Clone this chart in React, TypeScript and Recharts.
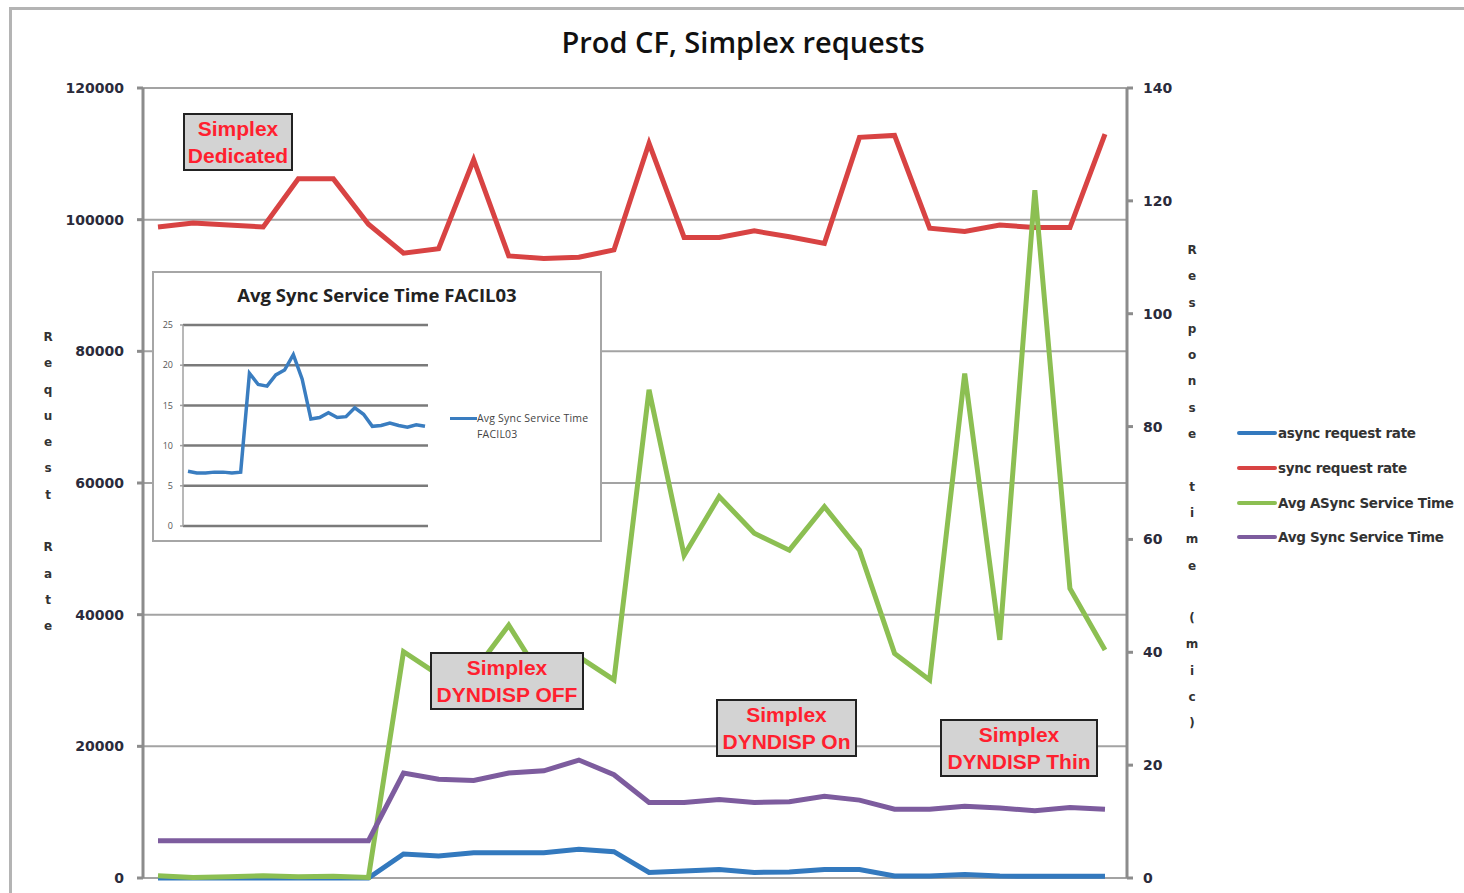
import { LineChart, Line, XAxis, YAxis, CartesianGrid } from 'recharts';

const periods = [
  '01', '02', '03', '04', '05', '06', '07', '08', '09', '10', '11', '12', '13', '14',
  '15', '16', '17', '18', '19', '20', '21', '22', '23', '24', '25', '26', '27', '28',
];

// request rates (left axis)
const asyncRate = [
  0, 0, 0, 0, 0, 0, 0, 3650, 3350, 3850, 3850, 3850, 4350, 4000,
  850, 1050, 1300, 850, 900, 1300, 1300, 300, 300, 550, 300, 250, 250, 250,
];
const syncRate = [
  98900, 99500, 99200, 98900, 106200, 106200, 99300, 94900, 95600, 109100, 94500, 94100, 94300, 95400,
  111600, 97300, 97300, 98300, 97400, 96400, 112500, 112800, 98700, 98200, 99200, 98800, 98800, 113000,
];

// service times (right axis)
const asyncTime = [
  0.4, 0.1, 0.2, 0.4, 0.2, 0.3, 0.1, 40.1, 36.0, 36.5, 44.8, 34.9, 39.2, 35.1,
  86.5, 57.2, 67.6, 61.1, 58.1, 65.8, 58.1, 39.8, 35.1, 89.4, 42.2, 121.9, 51.3, 40.4,
];
const syncTime = [
  6.6, 6.6, 6.6, 6.6, 6.6, 6.6, 6.6, 18.6, 17.5, 17.3, 18.6, 19.0, 20.9, 18.3,
  13.4, 13.4, 13.9, 13.4, 13.5, 14.5, 13.8, 12.2, 12.2, 12.7, 12.4, 11.9, 12.5, 12.2,
];

// inset: FACIL03
const facilSync = [
  6.8, 6.6, 6.6, 6.7, 6.7, 6.6, 6.7, 19.0, 17.6, 17.4, 18.8, 19.4, 21.3, 18.3,
  13.3, 13.5, 14.1, 13.5, 13.6, 14.7, 13.9, 12.4, 12.5, 12.8, 12.5, 12.3, 12.6, 12.4,
];

const rateTicks = [0, 20000, 40000, 60000, 80000, 100000, 120000];
const timeTicks = [0, 20, 40, 60, 80, 100, 120, 140];
const insetTicks = [0, 5, 10, 15, 20, 25];

const seriesInfo = [
  { key: 'asyncRate', name: 'async request rate', color: '#3379be', axis: 'left' },
  { key: 'syncRate', name: 'sync request rate', color: '#d84343', axis: 'left' },
  { key: 'asyncTime', name: 'Avg ASync Service Time', color: '#8cbf52', axis: 'right' },
  { key: 'syncTime', name: 'Avg Sync Service Time', color: '#7d5c9e', axis: 'right' },
];

const notes = [
  { lines: ['Simplex', 'Dedicated'], left: 183, top: 113, width: 110 },
  { lines: ['Simplex', 'DYNDISP OFF'], left: 430, top: 652, width: 154 },
  { lines: ['Simplex', 'DYNDISP On'], left: 716, top: 699, width: 141 },
  { lines: ['Simplex', 'DYNDISP Thin'], left: 940, top: 719, width: 158 },
];

const data = periods.map((p, i) => ({
  period: p,
  asyncRate: asyncRate[i],
  syncRate: syncRate[i],
  asyncTime: asyncTime[i],
  syncTime: syncTime[i],
}));
const insetData = periods.map((p, i) => ({ period: p, facil: facilSync[i] }));

const axisFont = 'DejaVu Sans, sans-serif';

const StackedTitle = ({ text, x, y }: { text: string; x: number; y: number }) => (
  <div
    style={{
      position: 'absolute', left: x - 10, top: y, width: 20, textAlign: 'center',
      fontFamily: axisFont, fontWeight: 700, fontSize: 12, lineHeight: '26.3px', color: '#333',
    }}
  >
    {text.split('').map((c, i) => (
      <div key={i} style={{ height: 26.3 }}>{c === ' ' ? '\u00a0' : c}</div>
    ))}
  </div>
);

const LegendBox = () => (
  <div
    style={{
      position: 'absolute', left: 1237, top: 416, width: 230,
      fontFamily: axisFont, fontWeight: 700, fontSize: 13.5, color: '#333',
    }}
  >
    {seriesInfo.map((s) => (
      <div key={s.key} style={{ display: 'flex', alignItems: 'center', height: 34.7 }}>
        <span style={{ width: 40, height: 4, borderRadius: 2, background: s.color, marginRight: 1 }} />
        <span style={{ letterSpacing: -0.3, whiteSpace: 'nowrap' }}>{s.name}</span>
      </div>
    ))}
  </div>
);

export default function App() {
  return (
    <div style={{ position: 'absolute', left: 0, top: 0, width: 1464, height: 893, background: '#fff', overflow: 'hidden' }}>
      <div style={{ position: 'absolute', left: 9, top: 7, right: -10, bottom: -10, border: '3px solid #b4b4b4' }} />

      <div
        style={{
          position: 'absolute', left: 443, top: 22, width: 600, textAlign: 'center',
          fontFamily: 'Open Sans, sans-serif', fontWeight: 600, fontSize: 29, color: '#111',
        }}
      >
        Prod CF, Simplex requests
      </div>

      <div style={{ position: 'absolute', left: 0, top: 0 }}>
        <LineChart width={1464} height={893} data={data} margin={{ top: 88, right: 277, bottom: 15, left: 63 }}>
          <CartesianGrid yAxisId="left" vertical={false} stroke="#a3a3a3" strokeWidth={2} />
          <XAxis dataKey="period" hide height={0} padding={{ left: 15, right: 22 }} />
          <YAxis
            yAxisId="left"
            width={80}
            domain={[0, 120000]}
            ticks={rateTicks}
            interval={0}
            stroke="#8c8c8c"
            strokeWidth={3}
            tickSize={6}
            tickMargin={13}
            tick={{ fontFamily: axisFont, fontWeight: 700, fontSize: 14, fill: '#2b2b3b' }}
          />
          <YAxis
            yAxisId="right"
            orientation="right"
            width={60}
            domain={[0, 140]}
            ticks={timeTicks}
            interval={0}
            stroke="#8c8c8c"
            strokeWidth={3}
            tickSize={6}
            tickMargin={10}
            tick={{ fontFamily: axisFont, fontWeight: 700, fontSize: 14, fill: '#2b2b3b' }}
          />
          {seriesInfo.map((s) => (
            <Line
              key={s.key}
              yAxisId={s.axis}
              dataKey={s.key}
              name={s.name}
              type="linear"
              stroke={s.color}
              strokeWidth={5}
              dot={false}
              isAnimationActive={false}
            />
          ))}
        </LineChart>
      </div>

      <LegendBox />
      <StackedTitle text="Request Rate" x={48} y={324} />
      <StackedTitle text="Response time (mic)" x={1192} y={237} />

      {/* inset chart */}
      <div
        style={{
          position: 'absolute', left: 152, top: 271, width: 446, height: 267,
          background: '#fff', border: '2px solid #a6a6a6',
        }}
      >
        <div
          style={{
            position: 'absolute', left: 0, top: 9, width: 446, textAlign: 'center',
            fontFamily: 'Open Sans, sans-serif', fontWeight: 700, fontSize: 18.5, color: '#222',
          }}
        >
          Avg Sync Service Time FACIL03
        </div>
        <div style={{ position: 'absolute', left: -2, top: -2 }}>
          <LineChart width={448} height={269} data={insetData} margin={{ top: 54, right: 172, bottom: 14, left: 5 }}>
            <CartesianGrid vertical={false} stroke="#7a7a7a" strokeWidth={2.5} />
            <XAxis dataKey="period" hide height={0} padding={{ left: 5, right: 3 }} />
            <YAxis
              width={26}
              domain={[0, 25]}
              ticks={insetTicks}
              interval={0}
              stroke="#a0a0a0"
              strokeWidth={1.5}
              tickSize={3}
              tickMargin={7}
              tick={{ fontFamily: 'Open Sans, sans-serif', fontSize: 9, fill: '#555' }}
            />
            <Line
              dataKey="facil"
              type="linear"
              stroke="#3a7dc0"
              strokeWidth={3.5}
              dot={false}
              isAnimationActive={false}
            />
          </LineChart>
        </div>
        <div style={{ position: 'absolute', left: 296, top: 137, display: 'flex', alignItems: 'flex-start' }}>
          <span style={{ width: 27, height: 3, background: '#3a7dc0', marginTop: 7 }} />
          <span
            style={{
              fontFamily: 'Open Sans, sans-serif', fontSize: 10.5, lineHeight: '16px', color: '#444',
              width: 130, letterSpacing: 0.2, whiteSpace: 'nowrap',
            }}
          >
            Avg Sync Service Time
            <br />
            FACIL03
          </span>
        </div>
      </div>

      {notes.map((n) => (
        <div
          key={n.lines[1]}
          style={{
            position: 'absolute', left: n.left, top: n.top, width: n.width - 4, height: 54,
            background: '#d3d3d3', border: '2px solid #222', textAlign: 'center',
            fontFamily: 'Liberation Sans, Arial, sans-serif', fontWeight: 700, fontSize: 21,
            lineHeight: '27px', color: '#ff1f2f', whiteSpace: 'nowrap', overflow: 'hidden',
          }}
        >
          {n.lines[0]}
          <br />
          {n.lines[1]}
        </div>
      ))}
    </div>
  );
}
